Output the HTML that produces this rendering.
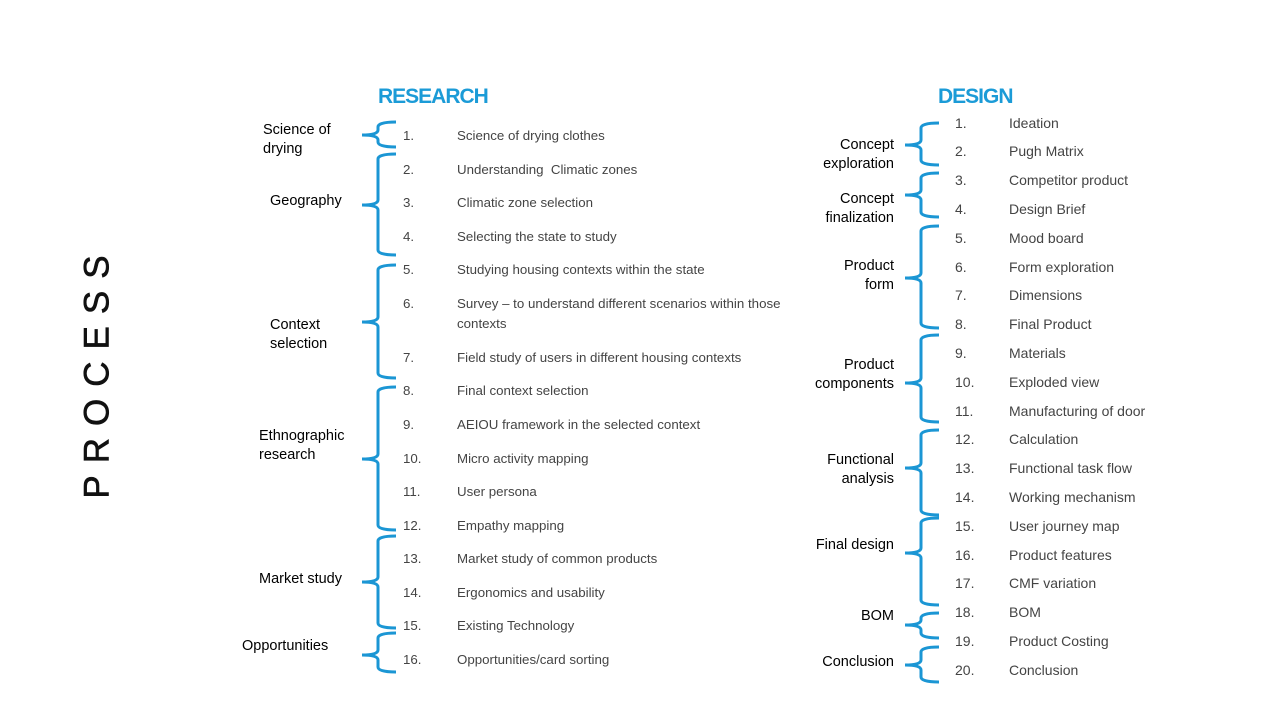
<!DOCTYPE html>
<html><head><meta charset="utf-8"><style>
body{margin:0;width:1280px;height:720px;background:#fff;position:relative;overflow:hidden;font-family:"Liberation Sans",sans-serif}
.t{position:absolute;white-space:nowrap;line-height:1}
.n{color:#444;font-size:13.3px}
.d{color:#444;font-size:14px}
.l{color:#000;font-size:14.5px;line-height:19px}
.h{color:#1b9bd7;font-weight:bold;font-size:21px;letter-spacing:-1px}
</style></head><body>
<div class="t" style="left:97px;top:371px;transform:translate(-50%,-50%) rotate(-90deg);font-size:35px;letter-spacing:12px;color:#111;-webkit-text-stroke:0.6px #111">PROCESS</div>
<div class="t h" style="left:378px;top:86px">RESEARCH</div>
<div class="t h" style="left:938px;top:86px">DESIGN</div>
<svg width="1280" height="720" style="position:absolute;left:0;top:0" fill="none" stroke="#1b96d4" stroke-width="3">
<g id="br"></g>
</svg>
<div id="c"></div>
<script>
function brace(vx,ex,tx,top,bot,tip){var r=5;return `<path d="M${ex} ${top} Q${vx} ${top} ${vx} ${top+r} L${vx} ${tip-r} Q${vx} ${tip} ${tx} ${tip} Q${vx} ${tip} ${vx} ${tip+r} L${vx} ${bot-r} Q${vx} ${bot} ${ex} ${bot}"/>`;}
var s='';
[[122,147,135],[154,255,205],[265,378,322],[387,530,459],[536,628,582],[633,672,655]].forEach(a=>s+=brace(378,396,362,a[0],a[1],a[2]));
[[123,165,145],[173,217,195],[226,328,278],[335,422,383],[430,515,468],[518,605,553],[613,638,625],[647,682,665]].forEach(a=>s+=brace(921,939,905,a[0],a[1],a[2]));
document.getElementById('br').outerHTML=s;
var h='';
var R=[[136,'Science of drying clothes'],[170,'Understanding&nbsp; Climatic zones'],[203,'Climatic zone selection'],[237,'Selecting the state to study'],[270,'Studying housing contexts within the state'],[304,'Survey – to understand different scenarios within those'],[358,'Field study of users in different housing contexts'],[391,'Final context selection'],[425,'AEIOU framework in the selected context'],[459,'Micro activity mapping'],[492,'User persona'],[526,'Empathy mapping'],[559,'Market study of common products'],[593,'Ergonomics and usability'],[626,'Existing Technology'],[660,'Opportunities/card sorting']];
R.forEach((a,i)=>{h+=`<div class="t n" style="left:403px;top:${a[0]-7}px">${i+1}.</div><div class="t n" style="left:457px;top:${a[0]-7}px">${a[1]}</div>`;});
h+=`<div class="t n" style="left:457px;top:317px">contexts</div>`;
var D=['Ideation','Pugh Matrix','Competitor product','Design Brief','Mood board','Form exploration','Dimensions','Final Product','Materials','Exploded view','Manufacturing of door','Calculation','Functional task flow','Working mechanism','User journey map','Product features','CMF variation','BOM','Product Costing','Conclusion'];
var DY=[124,152,181,210,239,268,296,325,354,383,412,440,469,498,527,556,584,613,642,671];
D.forEach((t,i)=>{h+=`<div class="t d" style="left:955px;top:${DY[i]-8}px">${i+1}.</div><div class="t d" style="left:1009px;top:${DY[i]-8}px">${t}</div>`;});
var L=[[263,121,'Science of<br>drying'],[270,192,'Geography'],[270,316,'Context<br>selection'],[259,427,'Ethnographic<br>research'],[259,570,'Market study'],[242,637,'Opportunities']];
L.forEach(a=>h+=`<div class="t l" style="left:${a[0]}px;top:${a[1]}px">${a[2]}</div>`);
var RL=[[136,'Concept<br>exploration'],[190,'Concept<br>finalization'],[257,'Product<br>form'],[356,'Product<br>components'],[451,'Functional<br>analysis'],[536,'Final design'],[607,'BOM'],[653,'Conclusion']];
RL.forEach(a=>h+=`<div class="t l" style="right:386px;top:${a[0]}px;text-align:right">${a[1]}</div>`);
document.getElementById('c').innerHTML=h;
</script>
</body></html>
